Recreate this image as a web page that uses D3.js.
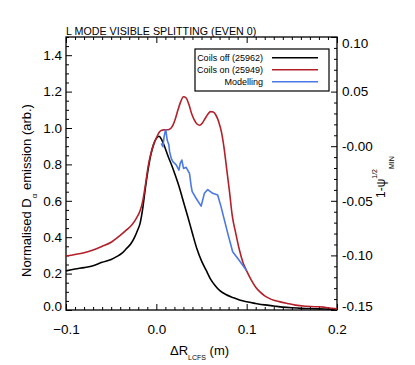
<!DOCTYPE html>
<html>
<head>
<meta charset="utf-8">
<script src="https://cdn.jsdelivr.net/npm/d3@7"></script>
<style>
  body { margin: 0; background: #fff; }
  svg { display: block; font-family: "Liberation Sans", Arial, sans-serif; }
</style>
</head>
<body>
<div id="chart"></div>
<script>
// L mode visible splitting profiles

const width = 415;
const height = 365;

// coils off (25962)
const offX = [-0.1, -0.09, -0.08, -0.07, -0.06, -0.05, -0.044, -0.038, -0.033, -0.028, -0.024, -0.021, -0.018, -0.015, -0.012, -0.009, -0.006, -0.003, 0.0, 0.003, 0.006, 0.009, 0.013, 0.017, 0.021, 0.026, 0.03, 0.035, 0.04, 0.045, 0.05, 0.055, 0.06, 0.065, 0.07, 0.077, 0.085, 0.092, 0.1, 0.11, 0.12, 0.13, 0.14, 0.15, 0.16, 0.17, 0.18, 0.19, 0.2];
const offY = [0.215, 0.225, 0.233, 0.243, 0.262, 0.278, 0.293, 0.312, 0.338, 0.365, 0.4, 0.435, 0.476, 0.56, 0.675, 0.775, 0.855, 0.91, 0.943, 0.955, 0.935, 0.9, 0.845, 0.795, 0.74, 0.665, 0.595, 0.51, 0.42, 0.335, 0.27, 0.22, 0.17, 0.135, 0.108, 0.085, 0.068, 0.055, 0.045, 0.036, 0.028, 0.022, 0.016, 0.012, 0.009, 0.008, 0.006, 0.005, 0.004];

// coils on (25949)
const onX = [-0.1, -0.09, -0.08, -0.07, -0.06, -0.05, -0.04, -0.033, -0.027, -0.022, -0.018, -0.015, -0.012, -0.009, -0.006, -0.003, 0.0, 0.003, 0.006, 0.01, 0.014, 0.018, 0.021, 0.024, 0.027, 0.03, 0.033, 0.036, 0.039, 0.042, 0.045, 0.048, 0.051, 0.054, 0.057, 0.06, 0.063, 0.066, 0.069, 0.072, 0.075, 0.078, 0.081, 0.084, 0.088, 0.092, 0.096, 0.1, 0.105, 0.11, 0.115, 0.12, 0.125, 0.13, 0.136, 0.145, 0.154, 0.165, 0.175, 0.18, 0.185, 0.19, 0.2];
const onY = [0.297, 0.305, 0.315, 0.33, 0.35, 0.372, 0.41, 0.44, 0.468, 0.505, 0.545, 0.6, 0.69, 0.79, 0.86, 0.91, 0.945, 0.975, 0.988, 0.99, 0.992, 1.012, 1.05, 1.1, 1.145, 1.172, 1.165, 1.13, 1.08, 1.045, 1.022, 1.015, 1.028, 1.052, 1.075, 1.09, 1.088, 1.07, 1.035, 0.98, 0.89, 0.77, 0.65, 0.52, 0.42, 0.33, 0.26, 0.215, 0.165, 0.125, 0.098, 0.078, 0.064, 0.054, 0.046, 0.036, 0.027, 0.021, 0.018, 0.018, 0.016, 0.012, 0.006];

// modelling
const modX = [0.0055, 0.0073, 0.0085, 0.0095, 0.0105, 0.012, 0.0139, 0.0147, 0.0165, 0.0183, 0.022, 0.025, 0.0264, 0.0282, 0.0301, 0.033, 0.0367, 0.0386, 0.0397, 0.044, 0.0496, 0.0532, 0.0569, 0.0624, 0.0679, 0.0716, 0.0753, 0.08, 0.0845, 0.09, 0.0955, 0.0999];
const modY = [0.916, 0.897, 0.95, 0.975, 0.99, 0.934, 0.906, 0.87, 0.833, 0.815, 0.797, 0.769, 0.806, 0.824, 0.778, 0.784, 0.751, 0.68, 0.65, 0.614, 0.571, 0.641, 0.662, 0.641, 0.632, 0.568, 0.495, 0.403, 0.32, 0.284, 0.247, 0.216];

// ticks and labels
const xTicks = [-0.1, 0.0, 0.1, 0.2];
const yTicks = [0.0, 0.2, 0.4, 0.6, 0.8, 1.0, 1.2, 1.4];
const psiTicks = [-0.15, -0.10, -0.05, 0.0, 0.05, 0.10];
const psiLabels = ["-0.15", "-0.10", "-0.05", "-0.00", "0.05", "0.10"];

const legendNames = ["Coils off (25962)", "Coils on (25949)", "Modelling"];
const colors = ["#000000", "#b3202a", "#4a78e6"];

// plot frame
const mLeft = 66, mRight = 337, mTop = 37, mBottom = 310;

const x = d3.scaleLinear().domain([-0.1, 0.2]).range([mLeft, mRight]);
const y = d3.scaleLinear().domain([0, 1.5]).range([mBottom, mTop]);
const yPsi = d3.scaleLinear().domain([-0.15, 0.10]).range([mBottom, mTop]);

const svg = d3.select("#chart")
    .append("svg")
    .attr("width", width)
    .attr("height", height);

svg.append("rect").attr("width", width).attr("height", height).attr("fill", "#fff");

// minor tick values
const xMinor = d3.range(-100, 201, 10).map(d => d / 1000).filter(v => !xTicks.some(t => Math.abs(t - v) < 1e-9));
const yMinor = d3.range(0, 31).map(d => d * 0.05).filter(v => !yTicks.some(t => Math.abs(t - v) < 1e-9));
const psiMinor = d3.range(-15, 11).map(d => d / 100).filter(v => !psiTicks.some(t => Math.abs(t - v) < 1e-9));

const clampLabel = v => Math.max(mTop + 6, Math.min(mBottom - 4, v));

function styleAxis(g) {
    g.select(".domain").remove();
    g.selectAll(".tick line").attr("stroke", "#000").attr("stroke-width", 1);
    g.selectAll(".tick text").attr("fill", "#000").attr("font-size", 13.5);
}

// bottom axis
svg.append("g")
    .attr("transform", `translate(0,${mBottom})`)
    .call(d3.axisBottom(x).tickValues(xTicks).tickSize(-6).tickPadding(14).tickFormat(d3.format(".1f")))
    .call(styleAxis);
svg.append("g")
    .attr("transform", `translate(0,${mBottom})`)
    .call(d3.axisBottom(x).tickValues(xMinor).tickSize(-3).tickFormat(""))
    .call(styleAxis);

// top axis
svg.append("g")
    .attr("transform", `translate(0,${mTop})`)
    .call(d3.axisTop(x).tickValues(xTicks).tickSize(-6).tickFormat(""))
    .call(styleAxis);
svg.append("g")
    .attr("transform", `translate(0,${mTop})`)
    .call(d3.axisTop(x).tickValues(xMinor).tickSize(-3).tickFormat(""))
    .call(styleAxis);

// left axis
svg.append("g")
    .attr("transform", `translate(${mLeft},0)`)
    .call(d3.axisLeft(y).tickValues(yTicks).tickSize(-6).tickPadding(4).tickFormat(d3.format(".1f")))
    .call(styleAxis)
    .call(g => g.selectAll(".tick text").attr("y", d => clampLabel(y(d)) - y(d)));
svg.append("g")
    .attr("transform", `translate(${mLeft},0)`)
    .call(d3.axisLeft(y).tickValues(yMinor).tickSize(-3).tickFormat(""))
    .call(styleAxis);

// right axis
svg.append("g")
    .attr("transform", `translate(${mRight},0)`)
    .call(d3.axisRight(yPsi).tickValues(psiTicks).tickSize(-6).tickPadding(5)
        .tickFormat((d, i) => psiLabels[i]))
    .call(styleAxis)
    .call(g => g.selectAll(".tick text").attr("y", d => clampLabel(yPsi(d)) - yPsi(d)));
svg.append("g")
    .attr("transform", `translate(${mRight},0)`)
    .call(d3.axisRight(yPsi).tickValues(psiMinor).tickSize(-3).tickFormat(""))
    .call(styleAxis);

// frame
svg.append("rect")
    .attr("x", mLeft).attr("y", mTop)
    .attr("width", mRight - mLeft).attr("height", mBottom - mTop)
    .attr("fill", "none").attr("stroke", "#000").attr("stroke-width", 1.3);

// curves
const series = [
    { xs: offX, ys: offY, curve: d3.curveMonotoneX },
    { xs: onX, ys: onY, curve: d3.curveMonotoneX },
    { xs: modX, ys: modY, curve: d3.curveLinear }
];

series.forEach((s, i) => {
    const pts = s.xs.map((v, j) => [v, s.ys[j]]);
    svg.append("path")
        .datum(pts)
        .attr("fill", "none")
        .attr("stroke", colors[i])
        .attr("stroke-width", 1.6)
        .attr("stroke-linejoin", "round")
        .attr("d", d3.line().x(d => x(d[0])).y(d => y(d[1])).curve(s.curve));
});

// legend
const legend = svg.append("g");
legend.append("rect")
    .attr("x", 195).attr("y", 49).attr("width", 134).attr("height", 42)
    .attr("fill", "#fff").attr("stroke", "#000").attr("stroke-width", 1.2);
legendNames.forEach((name, i) => {
    const ly = 57.7 + i * 12;
    legend.append("text")
        .attr("x", 263).attr("y", ly + 3.2)
        .attr("text-anchor", "end")
        .attr("font-size", 9)
        .text(name);
    legend.append("line")
        .attr("x1", 272).attr("x2", 318)
        .attr("y1", ly).attr("y2", ly)
        .attr("stroke", colors[i]).attr("stroke-width", 1.5);
});

// title
svg.append("text")
    .attr("x", mLeft).attr("y", 34.5)
    .attr("font-size", 10.7)
    .text("L MODE VISIBLE SPLITTING (EVEN 0)");

// x label
const xl = svg.append("text")
    .attr("x", 170).attr("y", 355)
    .attr("font-size", 13);
xl.append("tspan").text("\u0394R");
xl.append("tspan").attr("font-size", 7).attr("dy", 5).text("LCFS");
xl.append("tspan").attr("dy", -5).text(" (m)");

// left y label
const yl = svg.append("text")
    .attr("transform", "translate(30.5,277) rotate(-90)")
    .attr("font-size", 13);
yl.append("tspan").text("Normalised D");
yl.append("tspan").attr("font-size", 8).attr("dy", 6.5).text("\u03b1");
yl.append("tspan").attr("dy", -6.5).text(" emission (arb.)");

// right y label
const rl = svg.append("text")
    .attr("transform", "translate(385,198) rotate(-90)")
    .attr("font-size", 12);
rl.append("tspan").text("1-\u03c8");
rl.append("tspan").attr("font-size", 7).attr("dy", -8).text("1/2");
rl.append("tspan").attr("font-size", 7).attr("dy", 16.5).text("MIN");
</script>
</body>
</html>
